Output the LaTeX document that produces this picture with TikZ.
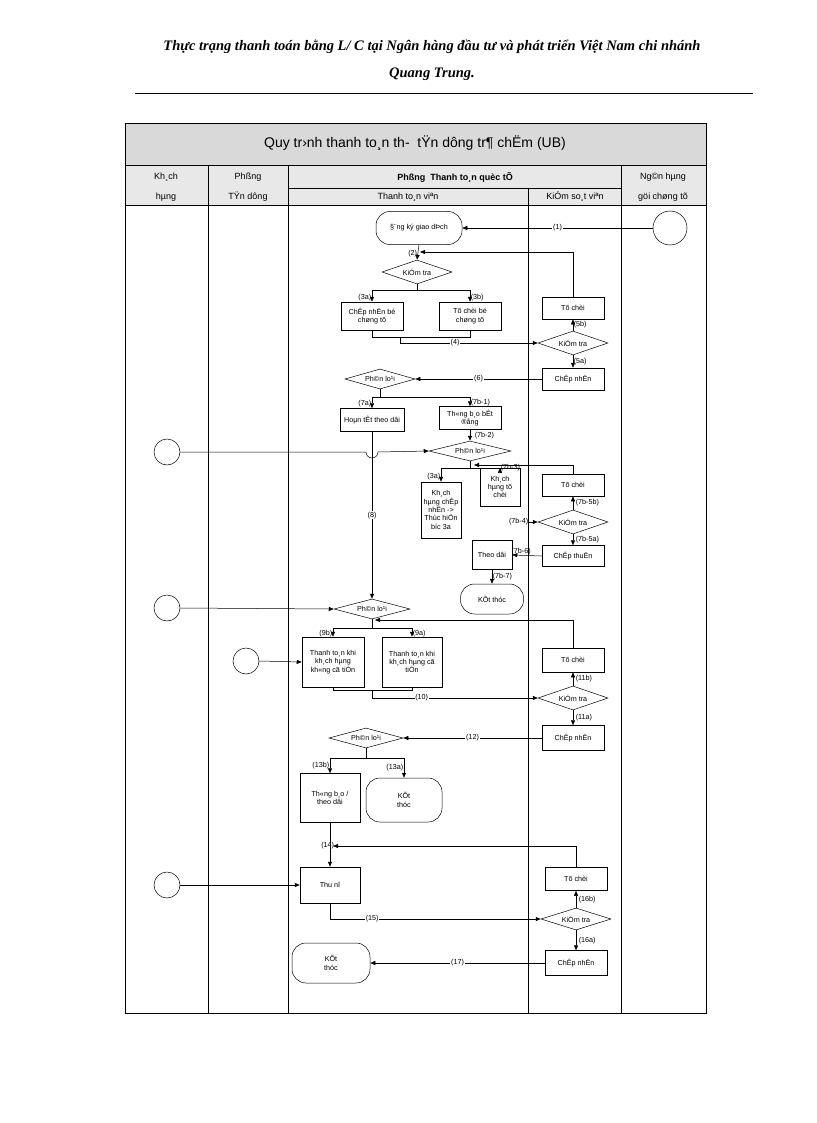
\documentclass[tikz,border=0pt]{standalone}
\usepackage{fontspec}
\setmainfont{Liberation Sans}
\newfontfamily\hdr{Liberation Serif}
\usetikzlibrary{shapes.geometric,arrows.meta}
\begin{document}
\begin{tikzpicture}[x=1pt,y=-1pt,
 fs/.style={font=\fontsize{7.2}{8.4}\selectfont},
 hf/.style={font=\fontsize{9}{11}\selectfont},
 box/.style={draw,rectangle,fs,align=center,inner sep=1pt},
 term/.style={draw,rectangle,rounded corners=14pt,fs,align=center},
 dia/.style={draw,diamond,inner sep=0pt},
 dt/.style={dia,label={[fs]center:#1}},
 circ/.style={draw,circle,inner sep=0pt},
 lbl/.style={fill=white,fs,inner sep=0.8pt},
 tl/.style={fs,inner sep=0.5pt},
 ar/.style={-{Triangle[length=5,width=4]}},
 every path/.style={line width=0.5pt}]
\useasboundingbox (0,0) rectangle (816,1123);
% header
\node[font=\hdr\bfseries\itshape\fontsize{14.5}{17}\selectfont] (h1) at (432,47) {Thực trạng thanh toán bằng L/ C tại Ngân hàng đầu tư và phát triển Việt Nam chi nhánh};
\node[font=\hdr\bfseries\itshape\fontsize{14.5}{17}\selectfont] (h2) at (432,74) {Quang Trung.};
\draw (135,93) -- (753,93);
% frame
\fill[gray!30] (125,123) rectangle (706,165);
\fill[gray!18] (125,165) rectangle (706,205);
\draw (125,123) rectangle (706,1013);
\draw (125,165) -- (706,165) (125,205) -- (706,205) (288,188) -- (621,188);
\draw (208,165) -- (208,1013) (288,165) -- (288,1013) (621,165) -- (621,1013) (528,188) -- (528,1013);
\node[font=\fontsize{14}{16}\selectfont] (title) at (415,143) {Quy tr›nh thanh to¸n th-\ \ tŸn dông tr¶ chËm (UB)};
\node[hf] (k1) at (166,177) {Kh¸ch};
\node[hf] (k2) at (166,197) {hµng};
\node[hf] (p1) at (248,177) {Phßng};
\node[hf] (p2) at (248,197) {TŸn dông};
\node[hf,font=\bfseries\fontsize{9}{11}\selectfont] (tt) at (455,177) {Phßng\ \ Thanh to¸n quèc tÕ};
\node[hf] (ttv) at (408,197) {Thanh to¸n viªn};
\node[hf] (ksv) at (575,197) {KiÓm so¸t viªn};
\node[hf] (n1) at (663,177) {Ng©n hµng};
\node[hf] (n2) at (663,197) {göi chøng tõ};
% nodes block 1
\node[circ,minimum size=34] (s1) at (670,228) {};
\node[term,minimum width=86,minimum height=33] (dk) at (419,228) {§¨ng ký giao dÞch};
\node[dt={KiÓm tra},minimum width=70,minimum height=24] (kt1) at (417,272) {};
\node[box,minimum width=62,minimum height=28] (cn1) at (372,316) {ChÊp nhËn bé\\chøng tõ};
\node[box,minimum width=62,minimum height=28] (tc1) at (470,316) {Tõ chèi bé\\chøng tõ};
\node[dt={KiÓm tra},minimum width=70,minimum height=24] (kt2) at (573,343) {};
\node[box,minimum width=62,minimum height=22] (tc2) at (573,308) {Tõ chèi};
\node[box,minimum width=62,minimum height=22] (cn2) at (573,379) {ChÊp nhËn};
\node[dt={Ph©n lo¹i},minimum width=70,minimum height=20] (pl1) at (380,379) {};
\node[box,minimum width=64,minimum height=23] (ht) at (372,420) {Hoµn tÊt theo dâi};
\node[box,minimum width=62,minimum height=23] (tb) at (470,418) {Th«ng b¸o bÊt\\®ång};
\node[dt={Ph©n lo¹i},minimum width=82,minimum height=20] (pl2) at (470,451) {};
\node[circ,minimum size=26] (c2) at (167,452) {};
\node[box,minimum width=40,minimum height=56] (kcn) at (441,510) {Kh¸ch\\hµng chÊp\\nhËn ->\\Thùc hiÖn\\b­íc 3a};
\node[box,minimum width=40,minimum height=38] (ktc) at (500,487) {Kh¸ch\\hµng tõ\\chèi};
\node[box,minimum width=62,minimum height=22] (tc3) at (573,485) {Tõ chèi};
\node[dt={KiÓm tra},minimum width=70,minimum height=24] (kt3) at (573,522) {};
\node[box,minimum width=62,minimum height=21] (ct3) at (573,556) {ChÊp thuËn};
\node[box,minimum width=40,minimum height=29] (td) at (492,555) {Theo dâi};
\node[term,minimum width=63,minimum height=30] (kt7) at (492,599) {KÕt thóc};
\coordinate (k74) at (529,522);
% block 3
\node[circ,minimum size=26] (c3) at (167,608) {};
\node[dt={Ph©n lo¹i},minimum width=76,minimum height=20] (pl3) at (372,609) {};
\node[box,minimum width=62,minimum height=50] (b9b) at (333,662) {Thanh to¸n khi\\kh¸ch hµng\\kh«ng cã tiÒn};
\node[box,minimum width=60,minimum height=50] (b9a) at (412,662) {Thanh to¸n khi\\kh¸ch hµng cã\\tiÒn};
\node[circ,minimum size=26] (c4) at (246,661) {};
\node[box,minimum width=62,minimum height=24] (tc4) at (573,660) {Tõ chèi};
\node[dt={KiÓm tra},minimum width=70,minimum height=24] (kt4) at (573,698) {};
\node[box,minimum width=62,minimum height=25] (cn4) at (573,738) {ChÊp nhËn};
\node[dt={Ph©n lo¹i},minimum width=74,minimum height=20] (pl4) at (366,738) {};
\node[box,minimum width=60,minimum height=49] (tb4) at (330,798) {Th«ng b¸o /\\theo dâi};
\node[term,minimum width=76,minimum height=44] (kt13) at (404,800) {KÕt\\thóc};
% block 5
\node[box,minimum width=60,minimum height=36] (thu) at (330,885) {Thu nî};
\node[circ,minimum size=26] (c5) at (167,885) {};
\node[box,minimum width=62,minimum height=23] (tc5) at (576,879) {Tõ chèi};
\node[dt={KiÓm tra},minimum width=70,minimum height=22] (kt5) at (576,919) {};
\node[box,minimum width=62,minimum height=25] (cn5) at (576,963) {ChÊp nhËn};
\node[term,minimum width=78,minimum height=40] (kt17) at (331,963) {KÕt\\thóc};
% connectors
\draw[ar] (s1.west) -- node[lbl]{(1)} (dk.east);
\draw[ar] (dk.south) -- node[tl,left,pos=0.6]{(2)} (kt1.north);
\draw[ar] (tc2.north) |- (420,252);
\draw (kt1.south) -- (417,290);
\draw[ar] (417,290) -| node[tl,pos=0.82,left]{(3a)} (cn1.north);
\draw[ar] (417,290) -| node[tl,pos=0.82,right]{(3b)} (tc1.north);
\draw (cn1.south) |- (470,337) -- (tc1.south);
\draw[ar] (400,337) |- node[lbl,pos=0.7]{(4)} (kt2.west);
\draw[ar] (kt2.north) -- node[tl,right]{(5b)} (tc2.south);
\draw[ar] (kt2.south) -- node[tl,right]{(5a)} (cn2.north);
\draw[ar] (cn2.west) -- node[lbl]{(6)} (pl1.east);
\draw (pl1.south) -- (380,397);
\draw[ar] (380,397) -| node[tl,pos=0.8,left]{(7a)} (ht.north);
\draw[ar] (380,397) -| node[tl,pos=0.8,right]{(7b-1)} (tb.north);
\draw[ar] (tb.south) -- node[tl,right,xshift=4]{(7b-2)} (pl2.north);
\draw[ar] (c2.east) -- (366,452) arc (180:0:6) -- (pl2.west);
\draw[ar] (ht.south) -- node[lbl]{(8)} (pl3.north);
\draw (pl2.south) -- (470,468);
\draw[ar] (470,468) -| node[tl,pos=0.8,left]{(3a)} (kcn.north);
\draw[ar] (470,468) -| node[tl,pos=0.8,right]{(7b-3)} (ktc.north);
\draw[ar] (tc3.north) |- (474,465);
\draw[ar] (k74) node[tl,left]{(7b-4)} -- (kt3.west);
\draw[ar] (kt3.north) -- node[tl,right,xshift=2]{(7b-5b)} (tc3.south);
\draw[ar] (kt3.south) -- node[tl,right,xshift=2]{(7b-5a)} (ct3.north);
\draw[ar] (ct3.west) -- node[tl,above,pos=0.7]{(7b-6)} (td.east);
\draw[ar] (td.south) -- node[tl,right]{(7b-7)} (kt7.north);
\draw[ar] (c3.east) -- (pl3.west);
\draw (pl3.south) -- (372,624);
\draw[ar] (tc4.north) |- (375,620);
\draw[ar] (372,628) -| node[tl,pos=0.85,left]{(9b)} (b9b.north);
\draw[ar] (372,628) -| node[tl,pos=0.85,right]{(9a)} (b9a.north);
\draw (372,624) -- (372,628);
\draw[ar] (c4.east) -- (b9b.west);
\draw (b9b.south) |- (412,690) -- (b9a.south);
\draw[ar] (372,690) |- node[lbl,pos=0.65]{(10)} (kt4.west);
\draw[ar] (kt4.north) -- node[tl,right,xshift=2]{(11b)} (tc4.south);
\draw[ar] (kt4.south) -- node[tl,right,xshift=2]{(11a)} (cn4.north);
\draw[ar] (cn4.west) -- node[lbl]{(12)} (pl4.east);
\draw (pl4.south) -- (366,758);
\draw[ar] (366,758) -| node[tl,pos=0.75,left]{(13b)} (tb4.north);
\draw[ar] (366,758) -| node[tl,pos=0.75,left]{(13a)} (kt13.north);
\draw[ar] (tb4.south) -- (thu.north);
\draw[ar] (tc5.north) |- node[tl,pos=0.99,left,xshift=-3]{(14)} (333,846);
\draw[ar] (c5.east) -- (thu.west);
\draw[ar] (thu.south) |- node[lbl,pos=0.6]{(15)} (kt5.west);
\draw[ar] (kt5.north) -- node[tl,right,xshift=2]{(16b)} (tc5.south);
\draw[ar] (kt5.south) -- node[tl,right,xshift=2]{(16a)} (cn5.north);
\draw[ar] (cn5.west) -- node[lbl]{(17)} (kt17.east);
\end{tikzpicture}
\end{document}
